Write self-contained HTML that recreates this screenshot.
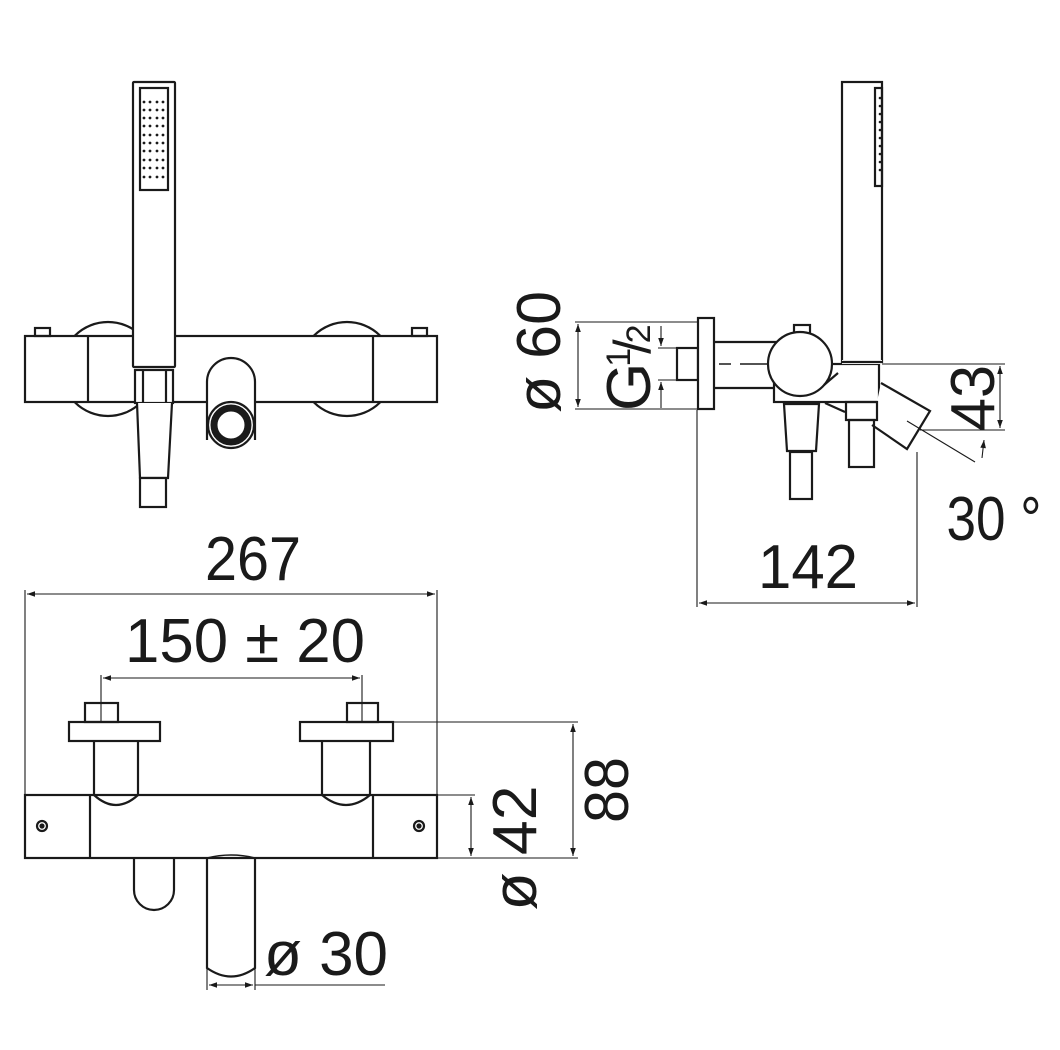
<!DOCTYPE html>
<html><head><meta charset="utf-8"><style>
html,body{margin:0;padding:0;background:#fff}
svg{display:block}
text{font-family:"Liberation Sans",sans-serif;fill:#1a1a1a}
</style></head><body>
<svg width="1060" height="1050" viewBox="0 0 1060 1050" xmlns="http://www.w3.org/2000/svg">
<defs>
<marker id="a" viewBox="0 0 10 10" refX="10" refY="5" markerWidth="10" markerHeight="8" orient="auto-start-reverse" markerUnits="userSpaceOnUse"><path d="M0,1.5 L10,5 L0,8.5 z" fill="#1a1a1a"/></marker>
<clipPath id="outsideBar"><path d="M0,0 H1060 V336 H0z M0,402 H1060 V1050 H0z"/></clipPath>
</defs>
<g fill="none" stroke="#1a1a1a" stroke-width="2.2">
<g clip-path="url(#outsideBar)">
<circle cx="108" cy="369" r="47"/>
<circle cx="347" cy="369" r="47"/>
</g>
<rect x="25" y="336" width="412" height="66" fill="#fff"/>
<line x1="88" y1="336" x2="88" y2="402"/>
<line x1="373" y1="336" x2="373" y2="402"/>
<rect x="35" y="328" width="15" height="8"/>
<rect x="412" y="328" width="15" height="8"/>
<rect x="133" y="82" width="42" height="285" fill="#fff" rx="1"/>
<rect x="140" y="88" width="28" height="102"/>
<rect x="135" y="370" width="38" height="33" fill="#fff"/>
<line x1="143" y1="370" x2="143" y2="403"/>
<line x1="166" y1="370" x2="166" y2="403"/>
<path d="M137,403 L140,478 L168,478 L172,403" fill="#fff"/>
<rect x="140" y="478" width="26" height="29" fill="#fff"/>
<path d="M207,440 V382 A24,24 0 0 1 255,382 V440" fill="#fff"/>
<circle cx="231" cy="425" r="23" fill="#fff"/>
<circle cx="231" cy="425" r="17" stroke-width="7"/>
<rect x="842" y="82" width="40" height="280"/>
<rect x="875" y="88" width="7" height="98"/>
<line x1="714" y1="342" x2="785" y2="342"/>
<line x1="714" y1="388" x2="785" y2="388"/>
<rect x="677" y="348" width="21" height="32"/>
<rect x="698" y="318" width="16" height="91" fill="#fff"/>
<rect x="774" y="364" width="105" height="38" fill="#fff"/>
<rect x="794" y="325" width="16" height="9"/>
<circle cx="800" cy="364" r="32" fill="#fff"/>
<path d="M824,385 L838,373"/>
<rect x="842" y="360" width="40" height="4" stroke="none" fill="#fff"/>
<line x1="842" y1="362" x2="882" y2="362"/>
<path d="M881,383 L930,411 L907,449 L872,425" fill="#fff"/>
<path d="M825,403 L845,412"/>
<path d="M784,404 H819 L816,451 H787 Z" fill="#fff"/>
<rect x="790" y="452" width="22" height="47"/>
<rect x="846" y="402" width="31" height="18"/>
<rect x="849" y="420" width="25" height="47"/>
<rect x="85" y="703" width="33" height="19"/>
<rect x="347" y="703" width="31" height="19"/>
<rect x="69" y="722" width="91" height="19"/>
<rect x="300" y="722" width="93" height="19"/>
<path d="M94,741 V795 M138,741 V795"/>
<path d="M322,741 V795 M370,741 V795"/>
<rect x="25" y="795" width="412" height="63"/>
<line x1="90" y1="795" x2="90" y2="858"/>
<line x1="373" y1="795" x2="373" y2="858"/>
<path d="M94,795 Q116,815 138,795" />
<path d="M322,795 Q346,815 370,795" />
<circle cx="42" cy="826" r="5"/><circle cx="42" cy="826" r="1.5" fill="#1a1a1a"/>
<circle cx="419" cy="826" r="5"/><circle cx="419" cy="826" r="1.5" fill="#1a1a1a"/>
<path d="M134,858 V890 A20,20 0 0 0 174,890 V858"/>
<path d="M207,858 V968 Q231,985 255,968 V858"/>
<path d="M207,858 Q231,852 255,858" stroke-width="1.5"/>
</g>
<g fill="#1a1a1a">
<circle cx="144" cy="102" r="1.4"/><circle cx="150" cy="102" r="1.4"/><circle cx="157" cy="102" r="1.4"/><circle cx="163" cy="102" r="1.4"/>
<circle cx="144" cy="110" r="1.4"/><circle cx="150" cy="110" r="1.4"/><circle cx="157" cy="110" r="1.4"/><circle cx="163" cy="110" r="1.4"/>
<circle cx="144" cy="118" r="1.4"/><circle cx="150" cy="118" r="1.4"/><circle cx="157" cy="118" r="1.4"/><circle cx="163" cy="118" r="1.4"/>
<circle cx="144" cy="126" r="1.4"/><circle cx="150" cy="126" r="1.4"/><circle cx="157" cy="126" r="1.4"/><circle cx="163" cy="126" r="1.4"/>
<circle cx="144" cy="135" r="1.4"/><circle cx="150" cy="135" r="1.4"/><circle cx="157" cy="135" r="1.4"/><circle cx="163" cy="135" r="1.4"/>
<circle cx="144" cy="143" r="1.4"/><circle cx="150" cy="143" r="1.4"/><circle cx="157" cy="143" r="1.4"/><circle cx="163" cy="143" r="1.4"/>
<circle cx="144" cy="151" r="1.4"/><circle cx="150" cy="151" r="1.4"/><circle cx="157" cy="151" r="1.4"/><circle cx="163" cy="151" r="1.4"/>
<circle cx="144" cy="160" r="1.4"/><circle cx="150" cy="160" r="1.4"/><circle cx="157" cy="160" r="1.4"/><circle cx="163" cy="160" r="1.4"/>
<circle cx="144" cy="168" r="1.4"/><circle cx="150" cy="168" r="1.4"/><circle cx="157" cy="168" r="1.4"/><circle cx="163" cy="168" r="1.4"/>
<circle cx="144" cy="177" r="1.4"/><circle cx="150" cy="177" r="1.4"/><circle cx="157" cy="177" r="1.4"/><circle cx="163" cy="177" r="1.4"/>
<circle cx="880" cy="98" r="1.3"/><circle cx="880" cy="106" r="1.3"/><circle cx="880" cy="114" r="1.3"/><circle cx="880" cy="122" r="1.3"/><circle cx="880" cy="130" r="1.3"/><circle cx="880" cy="138" r="1.3"/><circle cx="880" cy="146" r="1.3"/><circle cx="880" cy="154" r="1.3"/><circle cx="880" cy="162" r="1.3"/><circle cx="880" cy="170" r="1.3"/>
</g>
<g fill="none" stroke="#1a1a1a" stroke-width="1.1">
<line x1="719" y1="364" x2="731" y2="364" stroke-width="1.5"/>
<line x1="740" y1="364" x2="768" y2="364" stroke-width="1.5"/>
<line x1="882" y1="364" x2="1005" y2="364"/>
<line x1="920" y1="430" x2="1005" y2="430"/>
<line x1="1000" y1="366" x2="1000" y2="428" marker-start="url(#a)" marker-end="url(#a)"/>
<line x1="907" y1="421" x2="975" y2="462"/>
<line x1="982" y1="458" x2="984" y2="440" marker-end="url(#a)"/>
<line x1="697" y1="410" x2="697" y2="607"/>
<line x1="917" y1="452" x2="917" y2="607"/>
<line x1="699" y1="603" x2="915" y2="603" marker-start="url(#a)" marker-end="url(#a)"/>
<line x1="575" y1="322" x2="698" y2="322"/>
<line x1="575" y1="409" x2="698" y2="409"/>
<line x1="578" y1="324" x2="578" y2="407" marker-start="url(#a)" marker-end="url(#a)"/>
<line x1="658" y1="348" x2="677" y2="348"/>
<line x1="658" y1="380" x2="677" y2="380"/>
<line x1="661" y1="326" x2="661" y2="346" marker-end="url(#a)"/>
<line x1="661" y1="408" x2="661" y2="382" marker-end="url(#a)"/>
<line x1="25" y1="590" x2="25" y2="795"/>
<line x1="437" y1="590" x2="437" y2="795"/>
<line x1="27" y1="594" x2="435" y2="594" marker-start="url(#a)" marker-end="url(#a)"/>
<line x1="101" y1="675" x2="101" y2="722"/>
<line x1="362" y1="675" x2="362" y2="722"/>
<line x1="103" y1="678" x2="360" y2="678" marker-start="url(#a)" marker-end="url(#a)"/>
<line x1="437" y1="795" x2="475" y2="795"/>
<line x1="437" y1="858" x2="578" y2="858"/>
<line x1="471" y1="797" x2="471" y2="856" marker-start="url(#a)" marker-end="url(#a)"/>
<line x1="393" y1="722" x2="578" y2="722"/>
<line x1="573" y1="724" x2="573" y2="856" marker-start="url(#a)" marker-end="url(#a)"/>
<line x1="207" y1="968" x2="207" y2="990"/>
<line x1="255" y1="968" x2="255" y2="990"/>
<line x1="209" y1="985" x2="253" y2="985" marker-start="url(#a)" marker-end="url(#a)"/>
<line x1="255" y1="985" x2="385" y2="985"/>
</g>
<g font-size="62">
<text x="253" y="580" text-anchor="middle" textLength="96" lengthAdjust="spacingAndGlyphs">267</text>
<text x="245" y="662" text-anchor="middle" textLength="240" lengthAdjust="spacingAndGlyphs">150 ± 20</text>
<text x="326" y="975" textLength="124" lengthAdjust="spacingAndGlyphs" text-anchor="middle">ø 30</text>
<text x="808" y="588" text-anchor="middle" textLength="100" lengthAdjust="spacingAndGlyphs">142</text>
<text x="994" y="540" text-anchor="middle" textLength="95" lengthAdjust="spacingAndGlyphs">30 °</text>
<text transform="translate(628,790) rotate(-90)" text-anchor="middle" textLength="66" lengthAdjust="spacingAndGlyphs">88</text>
<text transform="translate(536,848) rotate(-90)" text-anchor="middle" textLength="125" lengthAdjust="spacingAndGlyphs">ø 42</text>
<text transform="translate(994,398) rotate(-90)" text-anchor="middle" textLength="66" lengthAdjust="spacingAndGlyphs">43</text>
<text transform="translate(560,352) rotate(-90)" text-anchor="middle" textLength="122" lengthAdjust="spacingAndGlyphs">ø 60</text>
<text transform="translate(650,411) rotate(-90)" font-size="62">G<tspan font-size="34" dy="-20" dx="-4">1</tspan><tspan font-size="52" dy="20" dx="-6">/</tspan><tspan font-size="34" dx="-4">2</tspan></text>
</g>
</svg>
</body></html>
